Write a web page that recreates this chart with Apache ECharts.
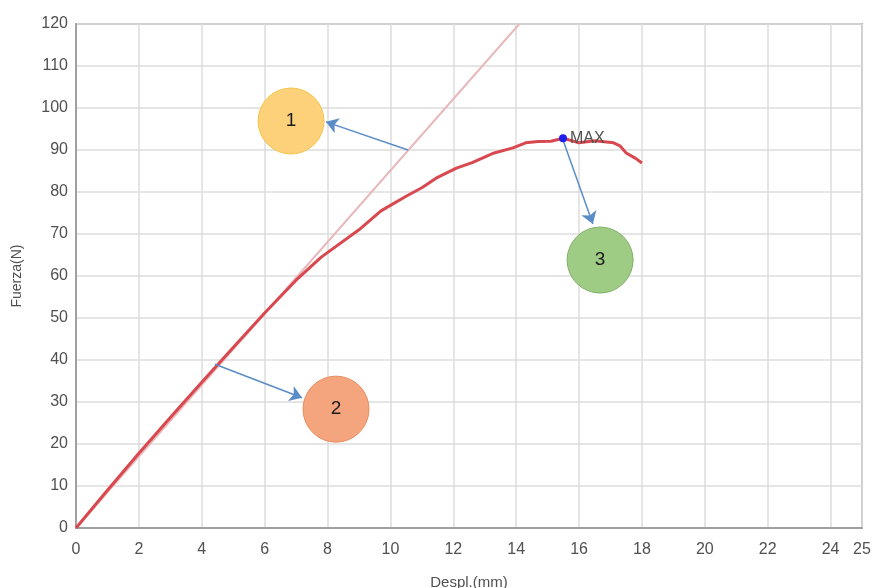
<!DOCTYPE html>
<html>
<head>
<meta charset="utf-8">
<script src="https://cdn.jsdelivr.net/npm/echarts@6/dist/echarts.min.js"></script>
<style>
  html, body { margin: 0; padding: 0; background: #fff; }
  #chart { width: 875px; height: 588px; }
</style>
</head>
<body>
<div id="chart"></div>
<script>
  // ensayo: fuerza vs desplazamiento
  var xTicks = [0, 2, 4, 6, 8, 10, 12, 14, 16, 18, 20, 22, 24, 25];
  var despl = [0, 1, 2, 3, 4, 5, 6, 7, 7.8, 9, 9.7, 10.5, 11, 11.5, 12.1, 12.6, 13.3, 13.9, 14.3, 14.7, 15.1, 15.5, 16.0, 16.5, 17.1, 17.3, 17.5, 17.8, 18.0];
  var fuerza = [0, 9, 17.8, 26.3, 34.7, 43, 51.2, 59, 64.5, 71, 75.5, 79, 81, 83.5, 85.7, 87, 89.3, 90.5, 91.7, 92, 92.1, 92.8, 91.7, 92.2, 91.7, 91, 89.3, 88, 86.9];
  var tangentX = [0, 14.1];
  var tangentY = [0, 120];
  var maxPoint = [15.49, 92.8];
  // notas (circulos numerados) y flechas
  var noteLabels = ['1', '2', '3'];
  var noteX = [6.84, 8.27, 16.67];
  var noteY = [96.9, 28.3, 63.8];
  var noteColors = ['#fdd17a', '#f5a57e', '#9fcc85'];
  var noteBorders = ['#f5c44a', '#e88a5e', '#7fb066'];
  var arrowFrom = [[10.56, 90], [4.42, 39], [15.49, 92.4]];
  var arrowTo = [[7.95, 96.7], [7.19, 31], [16.44, 72.4]];

  var myChart = echarts.init(document.getElementById('chart'));

  var fontFam = 'Liberation Sans, Arial, sans-serif';
  var labelFont = { color: '#505050', fontSize: 16, fontFamily: fontFam };

  myChart.setOption({
    animation: false,
    grid: {
      left: 76, right: 13, top: 24, bottom: 60,
      outerBoundsMode: 'none',
      show: true, borderColor: '#b0b0b0', borderWidth: 2
    },
    xAxis: {
      type: 'value', min: 0, max: 25, interval: 2,
      name: 'Despl.(mm)', nameLocation: 'middle', nameGap: 47,
      nameTextStyle: { color: '#505050', fontSize: 15, fontFamily: fontFam },
      axisLine: { show: true, lineStyle: { color: '#a0a0a0', width: 2 } },
      axisTick: { show: false },
      axisLabel: Object.assign({ margin: 14, customValues: xTicks }, labelFont),
      splitLine: { show: true, lineStyle: { color: '#dcdcdc', width: 1.5 } }
    },
    yAxis: {
      type: 'value', min: 0, max: 120, interval: 10,
      name: 'Fuerza(N)', nameLocation: 'middle', nameGap: 52,
      nameTextStyle: { color: '#505050', fontSize: 14, fontFamily: fontFam },
      axisLine: { show: true, lineStyle: { color: '#a0a0a0', width: 2 } },
      axisTick: { show: false },
      axisLabel: Object.assign({ margin: 8 }, labelFont),
      splitLine: { show: true, lineStyle: { color: '#dcdcdc', width: 1.5 } }
    },
    series: [
      {
        name: 'tangente',
        type: 'line',
        data: tangentX.map(function (x, i) { return [x, tangentY[i]]; }),
        showSymbol: false,
        lineStyle: { color: '#e7b9bd', width: 2 },
        z: 2
      },
      {
        name: 'curva',
        type: 'line',
        data: despl.map(function (x, i) { return [x, fuerza[i]]; }),
        showSymbol: false,
        lineStyle: { color: '#d9474f', width: 3 },
        z: 3,
        markLine: {
          silent: true,
          symbol: ['none', 'arrow'],
          symbolSize: 12,
          label: { show: false },
          lineStyle: { color: '#5a8cc8', width: 1.5, type: 'solid' },
          data: arrowFrom.map(function (p, i) {
            return [{ coord: p }, { coord: arrowTo[i] }];
          })
        }
      },
      {
        name: 'max',
        type: 'scatter',
        data: [maxPoint],
        symbolSize: 8,
        itemStyle: { color: '#1e1ef0', opacity: 1 },
        label: {
          show: true, position: 'right', distance: 3, formatter: 'MAX',
          color: '#505050', fontSize: 16, fontFamily: fontFam
        },
        z: 5
      },
      {
        name: 'notas',
        type: 'scatter',
        data: noteX.map(function (x, i) {
          return {
            value: [x, noteY[i]],
            itemStyle: { color: noteColors[i], borderColor: noteBorders[i], borderWidth: 1, opacity: 1 }
          };
        }),
        symbol: 'circle',
        symbolSize: 66,
        label: {
          show: true, position: 'inside',
          formatter: function (p) { return noteLabels[p.dataIndex]; },
          color: '#1a1a1a', fontSize: 19, fontFamily: fontFam
        },
        z: 6
      }
    ]
  });
</script>
</body>
</html>
